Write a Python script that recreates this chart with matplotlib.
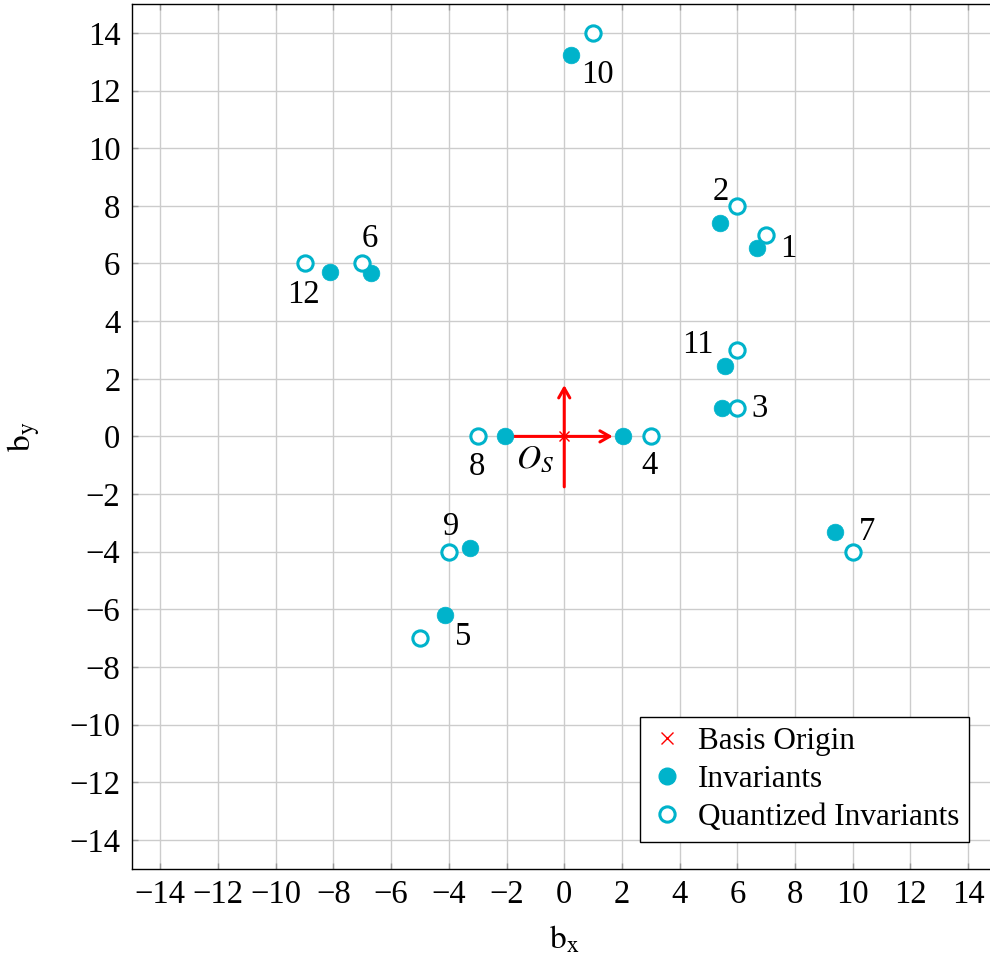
import matplotlib
matplotlib.use("Agg")
import matplotlib.pyplot as plt
from matplotlib.lines import Line2D

plt.rcParams["font.family"] = ["Liberation Serif", "DejaVu Serif"]
plt.rcParams["mathtext.fontset"] = "stix"
plt.rcParams["axes.unicode_minus"] = True

# Invariants (continuous) and their quantized counterparts, indexed 1..12
ids = ["1", "2", "3", "4", "5", "6", "7", "8", "9", "10", "11", "12"]
inv_x = [6.67, 5.40, 5.47, 2.05, -4.14, -6.70, 9.40, -2.06, -3.27, 0.24, 5.56, -8.12]
inv_y = [6.54, 7.40, 0.98, 0.0, -6.18, 5.66, -3.32, 0.0, -3.88, 13.25, 2.43, 5.69]
quant_x = [7, 6, 6, 3, -5, -7, 10, -3, -4, 1, 6, -9]
quant_y = [7, 8, 1, 0, -7, 6, -4, 0, -4, 14, 3, 6]

# where each index label sits
label_x = [7.76, 5.42, 6.77, 2.94, -3.49, -6.73, 10.50, -3.02, -3.92, 1.15, 4.62, -9.04]
label_y = [6.51, 8.50, 0.96, -1.02, -6.95, 6.86, -3.30, -1.05, -3.15, 12.54, 3.18, 4.91]

# basis frame at the origin
origin = (0.0, 0.0)
axis_x_span = (-1.75, 1.68)
axis_y_span = (-1.75, 1.78)

ticks = list(range(-14, 15, 2))
lim = (-15, 15)

teal = "#00B3CB"
red = "#FF0000"

fig = plt.figure(figsize=(9.9, 9.56), dpi=100)
ax = fig.add_axes([131.5 / 990, (956 - 868.7) / 956, (997 - 131.5) / 990, (868.7 - 4.1) / 956])

ax.set_xlim(*lim)
ax.set_ylim(*lim)
ax.set_xticks(ticks)
ax.set_yticks(ticks)
ax.grid(True, color="#cccccc", linewidth=1.0)
ax.set_axisbelow(True)
ax.tick_params(axis="both", direction="in", length=4, width=1.0, color="#999999",
               labelsize=23.5, pad=8, top=True, right=True)
for sp in ax.spines.values():
    sp.set_linewidth(1.0)
    sp.set_color("black")
ax.spines["right"].set_visible(False)

# basis arrows
arrow_style = "->,head_length=0.7,head_width=0.4"
ax.annotate("", xy=(axis_x_span[1], origin[1]), xytext=(axis_x_span[0], origin[1]),
            arrowprops=dict(arrowstyle=arrow_style, color=red, lw=2.2,
                            shrinkA=0, shrinkB=0), zorder=3)
ax.annotate("", xy=(origin[0], axis_y_span[1]), xytext=(origin[0], axis_y_span[0]),
            arrowprops=dict(arrowstyle=arrow_style, color=red, lw=2.2,
                            shrinkA=0, shrinkB=0), zorder=3)
ax.plot([origin[0]], [origin[1]], linestyle="none", marker="x", color=red,
        markersize=7, markeredgewidth=1.0, zorder=4)
ax.text(-1.03, -0.81, r"$O_S$", fontsize=24, ha="center", va="center")

ax.plot(inv_x, inv_y, linestyle="none", marker="o", markersize=12,
        markerfacecolor=teal, markeredgecolor=teal, markeredgewidth=0.5, zorder=5)
ax.plot(quant_x, quant_y, linestyle="none", marker="o", markersize=11,
        markerfacecolor="white", markeredgecolor=teal, markeredgewidth=2.2, zorder=5)

for t, lx, ly in zip(ids, label_x, label_y):
    ax.text(lx, ly, t, fontsize=23.5, ha="center", va="center", zorder=6)

ax.set_xlabel(r"$\mathrm{b}_\mathrm{x}$", fontsize=24, labelpad=10)
ax.set_ylabel(r"$\mathrm{b}_\mathrm{y}$", fontsize=24, labelpad=20)

handles = [
    Line2D([], [], linestyle="none", marker="x", color=red, markersize=9, markeredgewidth=1.0),
    Line2D([], [], linestyle="none", marker="o", markersize=12, markerfacecolor=teal,
           markeredgecolor=teal),
    Line2D([], [], linestyle="none", marker="o", markersize=11, markerfacecolor="white",
           markeredgecolor=teal, markeredgewidth=2.2),
]
leg = ax.legend(handles, ["Basis Origin", "Invariants", "Quantized Invariants"],
                loc="lower right", bbox_to_anchor=((969 - 131.5) / (997 - 131.5), (868.7 - 841.7) / (868.7 - 4.1)),
                fontsize=22.5, frameon=True, fancybox=False, framealpha=1.0,
                edgecolor="black", borderpad=0.3, labelspacing=0.3, handlelength=1.1,
                handletextpad=0.45, borderaxespad=0)
leg.get_frame().set_linewidth(1.0)

fig.savefig("out.png", dpi=100)
